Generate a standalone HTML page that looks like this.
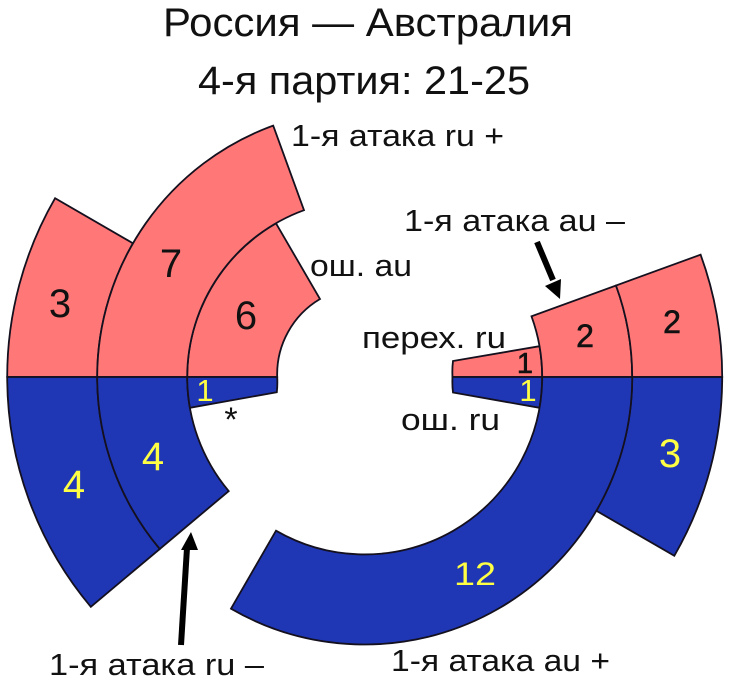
<!DOCTYPE html>
<html><head><meta charset="utf-8"><style>html,body{margin:0;padding:0;background:#fff}svg{display:block}text{font-family:"Liberation Sans",sans-serif;fill:#111}</style></head><body>
<svg width="730" height="686" viewBox="0 0 730 686" xmlns="http://www.w3.org/2000/svg">
<g stroke="#14101e" stroke-width="1.8" stroke-linejoin="miter">
<g fill="#ff7777">
<path d="M7.2 377A357.5 357.5 0 0 1 55.1 198.200L133 243.300A267.500 267.500 0 0 0 97.2 377Z"/>
<path d="M187.200 377A177.500 177.500 0 0 1 276 223.300L320 299A87.500 87.500 0 0 0 277.200 377Z"/>
<path d="M97.2 377A267.500 267.500 0 0 1 273.200 125.600L304 210.200A177.500 177.500 0 0 0 187.200 377Z"/>
<path d="M452.500 377A87.500 87.500 0 0 1 453 361L539.500 346.200A177.500 177.500 0 0 1 542.200 377Z"/>
<path d="M542.200 377A177.500 177.500 0 0 0 531.500 316.300L616 285.500A267.500 267.500 0 0 1 632.200 377Z"/>
<path d="M632.200 377A267.500 267.500 0 0 0 616 285.500L700.600 254.700A357.500 357.500 0 0 1 722.200 377Z"/>
</g>
<g fill="#1f37b5">
<path d="M7.2 377A357.500 357.500 0 0 0 90.8 606.800L159.800 549A267.500 267.500 0 0 1 97.2 377Z"/>
<path d="M97.2 377A267.500 267.500 0 0 0 159.800 549L228.700 491.100A177.500 177.500 0 0 1 187.200 377Z"/>
<path d="M187.200 377A177.500 177.500 0 0 0 189.900 407.800L276.800 392.200A87.500 87.500 0 0 0 277.200 377Z"/>
<path d="M452.500 377A87.500 87.500 0 0 0 453 392.500L539.500 407.800A177.500 177.500 0 0 0 542.200 377Z"/>
<path d="M632.200 377A267.500 267.500 0 0 1 596.400 510.800L674.300 555.800A357.500 357.500 0 0 0 722.200 377Z"/>
<path d="M542.200 377A177.500 177.500 0 0 1 276 530.700L231 608.700A267.500 267.500 0 0 0 632.200 377Z"/>
</g>
</g>
<line x1="537" y1="242" x2="553" y2="280" stroke="#000" stroke-width="6"/>
<polygon points="560,299 545,286 561,279" fill="#000"/>
<line x1="181" y1="645" x2="187" y2="548" stroke="#000" stroke-width="6"/>
<polygon points="191,532 181,550 198,550" fill="#000"/>
<text x="163" y="36" font-size="40" textLength="410" lengthAdjust="spacingAndGlyphs">Россия — Австралия</text>
<text x="198" y="94" font-size="40" textLength="332" lengthAdjust="spacingAndGlyphs">4-я партия: 21-25</text>
<g font-size="31">
<text x="291" y="146" textLength="213" lengthAdjust="spacingAndGlyphs">1-я атака ru +</text>
<text x="310" y="276" textLength="102" lengthAdjust="spacingAndGlyphs">ош. au</text>
<text x="404" y="231" textLength="221" lengthAdjust="spacingAndGlyphs">1-я атака au –</text>
<text x="362" y="348" textLength="144" lengthAdjust="spacingAndGlyphs">перех. ru</text>
<text x="401" y="430" textLength="99" lengthAdjust="spacingAndGlyphs">ош. ru</text>
<text x="49" y="675" textLength="215" lengthAdjust="spacingAndGlyphs">1-я атака ru –</text>
<text x="391" y="671" textLength="219" lengthAdjust="spacingAndGlyphs">1-я атака au +</text>
</g>
<text x="231" y="431" font-size="34" text-anchor="middle">*</text>
<g text-anchor="middle" font-size="40">
<text x="60" y="317">3</text>
<text x="171" y="277">7</text>
<text x="246" y="329">6</text>
</g>
<g text-anchor="middle" font-size="32" stroke="#111" stroke-width="0.6">
<text x="585" y="347">2</text>
<text x="672" y="333">2</text>
<text x="525" y="373" font-size="29">1</text>
</g>
<g text-anchor="middle" font-size="40">
<text x="74" y="498" style="fill:#ffff44">4</text>
<text x="153" y="470" style="fill:#ffff44">4</text>
<text x="670" y="467" style="fill:#ffff44">3</text>
<text x="454" y="585" font-size="32" text-anchor="start" textLength="42" lengthAdjust="spacingAndGlyphs" style="fill:#ffff44">12</text>
<text x="205" y="401" font-size="31" style="fill:#ffff44">1</text>
<text x="528" y="401" font-size="31" style="fill:#ffff44">1</text>
</g>
</svg>
</body></html>
